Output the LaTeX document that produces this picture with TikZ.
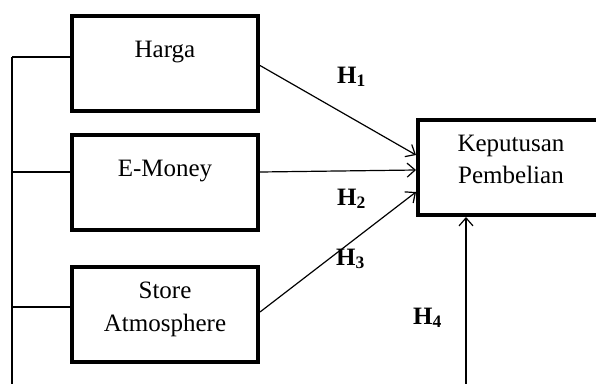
\documentclass[tikz,border=0pt]{standalone}
\usepackage{fontspec}
\setmainfont{Liberation Serif}
\usetikzlibrary{arrows.meta}
\begin{document}
\begin{tikzpicture}[x=1pt,y=-1pt,
  varbox/.style={draw,line width=4pt,minimum width=186pt,minimum height=95pt,inner sep=0pt},
  boxtext/.style={anchor=base,inner sep=0pt,font=\fontsize{25}{32}\selectfont},
  hyp/.style={anchor=base west,inner sep=0pt,font=\fontsize{25}{32}\selectfont\bfseries},
  link/.style={line width=1.2pt},
  arr/.style={line width=1.2pt,-{Straight Barb[length=8pt,width=14pt,line width=1.2pt]}}]
\useasboundingbox (0,0) rectangle (596,383);
\clip (0,0) rectangle (596,383);

% variable boxes
\node[varbox] (hg) at (165,63.5) {};
\node[varbox] (em) at (165,182.5) {};
\node[varbox] (sa) at (165,314) {};
\node[varbox,minimum width=202pt] (kp) at (519,167.5) {};

% box captions
\node[boxtext] at (165,57) {Harga};
\node[boxtext] at (165,176) {E-Money};
\node[boxtext] at (165,298) {Store};
\node[boxtext] at (165,331) {Atmosphere};
\node[boxtext] at (511,151) {Keputusan};
\node[boxtext] at (511,183) {Pembelian};

% common trunk on the left
\coordinate (trunktop) at (12,57);
\coordinate (trunkbot) at (12,400);
\coordinate (t2) at (12,172);
\coordinate (t3) at (12,307);
\draw[link] (trunktop) -- (trunkbot);
\draw[link] (trunktop) -- (trunktop -| hg.west);
\draw[link] (t2) -- (t2 -| em.west);
\draw[link] (t3) -- (t3 -| sa.west);

% hypothesis paths
\draw[arr] ([yshift=-2pt]hg.east) -- ([yshift=12.5pt]kp.west);
\draw[arr] ([yshift=10.5pt]em.east) -- ([yshift=-2.5pt]kp.west);
\draw[arr] ([yshift=2pt]sa.east) -- ([yshift=-24.5pt]kp.west);
\coordinate (h4foot) at (466,400);
\draw[arr] (h4foot) -- (h4foot |- kp.south);

% hypothesis labels
\node[hyp] at (337,83) {H\textsubscript{1}};
\node[hyp] at (337,205) {H\textsubscript{2}};
\node[hyp] at (336,265) {H\textsubscript{3}};
\node[hyp] at (413,324) {H\textsubscript{4}};
\end{tikzpicture}
\end{document}
